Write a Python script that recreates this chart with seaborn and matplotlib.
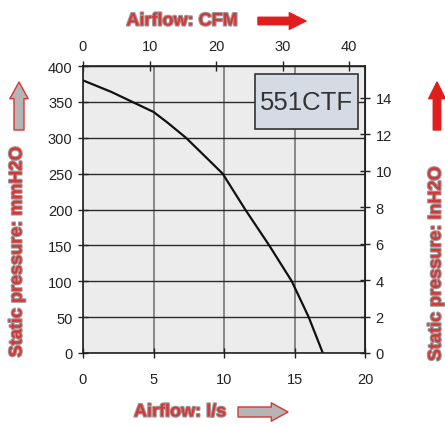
import numpy as np
import pandas as pd
import seaborn as sns
import matplotlib.pyplot as plt
import matplotlib.patheffects as pe
from matplotlib.patches import Rectangle

# fan curve (l/s vs mmH2O)
flow_ls = [0, 2, 3.5, 5, 6, 7.3, 8.5, 9.9, 11.5, 13.2, 14.8, 16, 17]
pressure_mm = [380, 364, 350, 336, 321, 300, 277, 250, 200, 150, 100, 50, 0]

x_ticks = [0, 5, 10, 15, 20]
y_ticks = [0, 50, 100, 150, 200, 250, 300, 350, 400]
cfm_ticks = [0, 10, 20, 30, 40]
inh2o_ticks = [0, 2, 4, 6, 8, 10, 12, 14]
model = "551CTF"

LS_TO_CFM = 2.11888
MM_TO_IN = 0.0393701

sns.set_style("ticks", {"axes.facecolor": "#ececec", "axes.edgecolor": "#222222"})
plt.rcParams['font.family'] = ['Liberation Sans', 'DejaVu Sans']

fig = plt.figure(figsize=(4.45, 4.27), dpi=100)
ax = fig.add_axes([0.1865, 0.171, 0.634, 0.672])

df = pd.DataFrame({"flow": flow_ls, "pressure": pressure_mm})
sns.lineplot(data=df, x="flow", y="pressure", ax=ax, color="#111111", linewidth=1.6)

ax.set_xlim(0, 20)
ax.set_ylim(0, 400)
ax.set_xticks(x_ticks)
ax.set_yticks(y_ticks)
ax.grid(True, axis="y", color="#2a2a2a", linewidth=1.0)
ax.grid(True, axis="x", color="#777777", linewidth=1.2)
ax.set_axisbelow(True)
ax.set_xlabel("")
ax.set_ylabel("")
ax.tick_params(direction="inout", length=7, width=1, colors="#222222", labelsize=10.5, pad=4)
ax.tick_params(axis="x", pad=10)
for s in ax.spines.values():
    s.set_linewidth(1.2)

top = ax.secondary_xaxis("top", functions=(lambda v: v * LS_TO_CFM, lambda v: v / LS_TO_CFM))
top.set_xticks(cfm_ticks)
top.tick_params(direction="inout", length=7, width=1, colors="#222222", labelsize=10.5, pad=6)

right = ax.secondary_yaxis("right", functions=(lambda v: v * MM_TO_IN, lambda v: v / MM_TO_IN))
right.set_yticks(inh2o_ticks)
right.tick_params(direction="inout", length=7, width=1, colors="#222222", labelsize=10.5, pad=4)

# model box
ax.add_patch(Rectangle((12.2, 312), 7.3, 77, fc="#d5dbe5", ec="#333333", lw=1.2, zorder=3))
ax.text(15.85, 350.5, model, ha="center", va="center", fontsize=18.5,
        color="#333333", zorder=4)

red = "#d93535"
outline = [pe.withStroke(linewidth=1.6, foreground="#9a9a9a")]
H = 427

fig.text(182 / 445, 1 - 22 / H, "Airflow: CFM", ha="center", va="center", fontsize=13,
         fontweight="bold", color=red, path_effects=outline)
fig.text(180 / 445, 1 - 413 / H, "Airflow: l/s", ha="center", va="center", fontsize=13,
         fontweight="bold", color=red, path_effects=outline)
fig.text(17 / 445, 1 - 253 / H, "Static pressure: mmH2O", ha="center", va="center", fontsize=13,
         fontweight="bold", color=red, rotation=90, path_effects=outline)
fig.text(436 / 445, 1 - 265 / H, "Static pressure: InH2O", ha="center", va="center", fontsize=13,
         fontweight="bold", color=red, rotation=90, path_effects=outline)

red_arrow = dict(arrowstyle="simple,head_length=1.0,head_width=1.0,tail_width=0.45",
                 fc="#e01e1e", ec="#e01e1e", mutation_scale=12, shrinkA=0, shrinkB=0)
gray_arrow = dict(arrowstyle="simple,head_length=1.0,head_width=1.1,tail_width=0.6",
                  fc="#b5b5b5", ec=red, lw=1, mutation_scale=12, shrinkA=0, shrinkB=0)

ax.annotate("", xy=(306, H - 22), xytext=(258, H - 22), xycoords="figure pixels",
            textcoords="figure pixels", arrowprops=red_arrow)
ax.annotate("", xy=(288, H - 413), xytext=(238, H - 413), xycoords="figure pixels",
            textcoords="figure pixels", arrowprops=gray_arrow)
ax.annotate("", xy=(19, H - 83), xytext=(19, H - 131), xycoords="figure pixels",
            textcoords="figure pixels", arrowprops=gray_arrow)
ax.annotate("", xy=(437, H - 83), xytext=(437, H - 131), xycoords="figure pixels",
            textcoords="figure pixels", arrowprops=red_arrow)

fig.savefig("out.png", dpi=100)
